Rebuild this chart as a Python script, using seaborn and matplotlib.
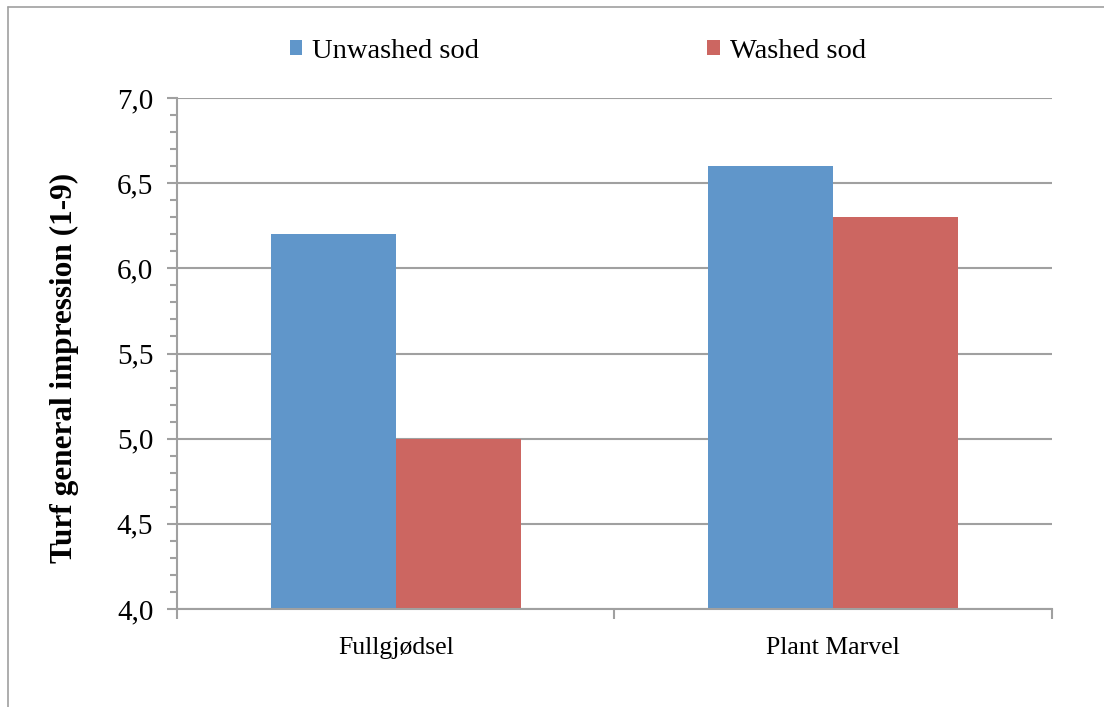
import matplotlib
matplotlib.use("Agg")
import matplotlib.pyplot as plt
from matplotlib.lines import Line2D
from matplotlib.ticker import FixedLocator, MultipleLocator, FuncFormatter
import seaborn as sns
import pandas as pd

# Data
categories = ["Fullgjødsel", "Plant Marvel"]
series_names = ["Unwashed sod", "Washed sod"]
unwashed = [6.2, 6.6]
washed = [5.0, 6.3]
colors = ["#6096CA", "#CC6661"]

df = pd.DataFrame({
    "category": categories * 2,
    "series": [series_names[0]] * len(categories) + [series_names[1]] * len(categories),
    "value": unwashed + washed,
})

sns.set_style("white")
plt.rcParams["font.family"] = ["Liberation Serif", "DejaVu Serif"]
plt.rcParams["text.color"] = "black"
plt.rcParams["axes.labelcolor"] = "black"

grid_gray = "#A0A0A0"

fig = plt.figure(figsize=(11.04, 7.07), dpi=100)
ax = fig.add_axes([0.1603, 0.1386, 0.7926, 0.7228])

sns.barplot(data=df, x="category", y="value", hue="series", palette=colors,
            width=0.571, gap=0, linewidth=0, saturation=1, ax=ax, legend=True)

# Bars start at the axis floor, not zero
for p in ax.patches:
    h = p.get_height()
    p.set_y(4.0)
    p.set_height(h - 4.0)

ax.set_ylim(4.0, 7.0)
ax.set_xlim(-0.5, 1.5)

ax.yaxis.set_major_locator(MultipleLocator(0.5))
ax.yaxis.set_minor_locator(MultipleLocator(0.1))
ax.yaxis.set_major_formatter(FuncFormatter(lambda v, _: f"{v:.1f}".replace(".", ",")))
ax.xaxis.set_minor_locator(FixedLocator([-0.5, 0.5, 1.5]))

ax.grid(axis="y", which="major", color=grid_gray, linewidth=1.5)
ax.set_axisbelow(True)

for side in ["top", "right"]:
    ax.spines[side].set_visible(False)
for side in ["left", "bottom"]:
    ax.spines[side].set_color(grid_gray)
    ax.spines[side].set_linewidth(1.5)

ax.tick_params(axis="y", which="major", length=7, width=1.5, color=grid_gray,
               labelsize=21, labelcolor="black", pad=10, left=True)
ax.tick_params(axis="y", which="minor", length=5, width=1.5, color=grid_gray, left=True)
ax.tick_params(axis="x", which="major", length=0, labelsize=18.5, labelcolor="black", pad=20)
ax.tick_params(axis="x", which="minor", length=7, width=1.5, color=grid_gray, bottom=True)

ax.set_xlabel("")
ax.set_ylabel("Turf general impression (1-9)", fontsize=22.5, fontweight="bold", color="black")
ax.yaxis.set_label_coords(-0.112, 0.472)

handles, labels = ax.get_legend_handles_labels()
leg = ax.legend(handles, labels, loc="lower center", bbox_to_anchor=(0.458, 1.045), ncol=2,
                frameon=False, fontsize=20.5, handlelength=0.45, handleheight=0.45,
                handletextpad=0.35, columnspacing=8.0, borderaxespad=0)
for t in leg.get_texts():
    t.set_color("black")

# Outer chart frame
fig.add_artist(Line2D([8 / 1104, 8 / 1104], [0, 1 - 7 / 707], transform=fig.transFigure,
                      color=grid_gray, linewidth=1.2))
fig.add_artist(Line2D([8 / 1104, 1], [1 - 7 / 707, 1 - 7 / 707], transform=fig.transFigure,
                      color=grid_gray, linewidth=1.2))

fig.savefig("out.png", dpi=100, facecolor="white")
